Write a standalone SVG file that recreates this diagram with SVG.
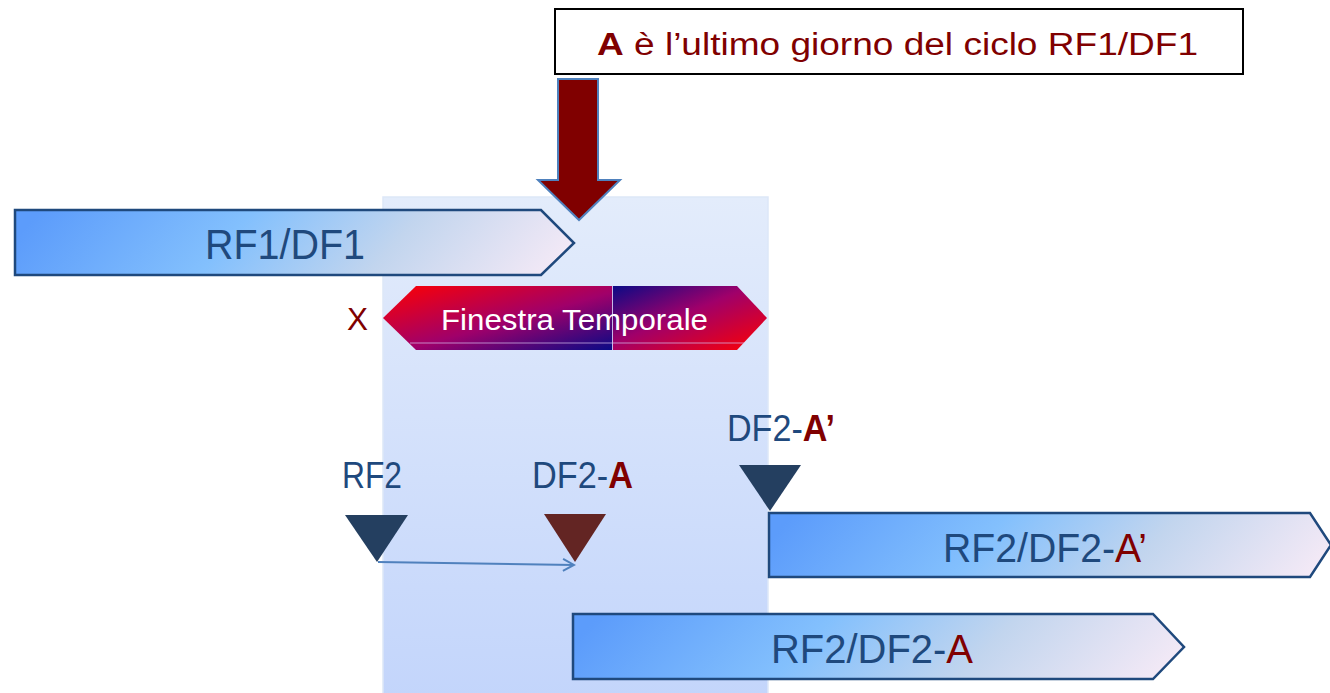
<svg xmlns="http://www.w3.org/2000/svg" width="1330" height="693" viewBox="0 0 1330 693">
<defs>
<style>
.lbl{font-family:"Liberation Sans",Arial,sans-serif;fill:#1f497d}
.red{fill:#800000}
.bold{font-weight:bold}
.pent{fill:url(#pg);stroke:#1f497d;stroke-width:2.5}
</style>
<linearGradient id="bg" x1="0" y1="0" x2="0" y2="1">
<stop offset="0" stop-color="#e3ecfb"/>
<stop offset="1" stop-color="#c3d5fb"/>
</linearGradient>
<linearGradient id="pg" x1="0" y1="0.45" x2="1" y2="0.55">
<stop offset="0" stop-color="#5c9cfb"/>
<stop offset="0.38" stop-color="#83c0fd"/>
<stop offset="0.68" stop-color="#c2d5ee"/>
<stop offset="1" stop-color="#f3e9f6"/>
</linearGradient>
<linearGradient id="fl" x1="0" y1="0" x2="1" y2="1">
<stop offset="0" stop-color="#ff0000"/>
<stop offset="0.55" stop-color="#a0006a"/>
<stop offset="1" stop-color="#0a0a86"/>
</linearGradient>
<linearGradient id="fr" x1="0" y1="0" x2="1" y2="1">
<stop offset="0" stop-color="#0a0a86"/>
<stop offset="0.45" stop-color="#a0006a"/>
<stop offset="1" stop-color="#ff0000"/>
</linearGradient>
<marker id="open" markerWidth="16" markerHeight="16" refX="14" refY="8" orient="auto" markerUnits="userSpaceOnUse">
<path d="M3,2 L14,8 L3,14" fill="none" stroke="#4f81bd" stroke-width="2"/>
</marker>
</defs>
<rect width="1330" height="693" fill="#ffffff"/>

<g id="window-bg">
<rect x="383" y="197" width="385" height="500" fill="url(#bg)" stroke="#dde7f8" stroke-width="1.5"/>
</g>

<g id="rf1df1">
<polygon class="pent" points="15,210 541,210 574,243 541,275 15,275"/>
<text class="lbl" x="205" y="259" font-size="42" textLength="160" lengthAdjust="spacingAndGlyphs">RF1/DF1</text>
</g>

<g id="finestra">
<polygon points="383,318 416,286 612,286 612,350 416,350" fill="url(#fl)"/>
<polygon points="612,286 737,286 767,318 737,350 612,350" fill="url(#fr)"/>
<line x1="612.5" y1="286" x2="612.5" y2="350" stroke="#c8b8e8" stroke-width="1"/>
<line x1="410" y1="343" x2="744" y2="343" stroke="#d8c0f0" stroke-width="1" opacity="0.7"/>
<text x="441" y="330" font-family="Liberation Sans,Arial,sans-serif" font-size="30" fill="#ffffff" textLength="267" lengthAdjust="spacingAndGlyphs">Finestra Temporale</text>
</g>

<g id="x-label">
<text class="lbl red" x="347" y="330" font-size="31" textLength="21" lengthAdjust="spacingAndGlyphs">X</text>
</g>

<g id="rf2">
<text class="lbl" x="342" y="488" font-size="37" textLength="60" lengthAdjust="spacingAndGlyphs">RF2</text>
<polygon points="345,515 408,515 377,562" fill="#243f60"/>
</g>

<g id="df2-a">
<text class="lbl" x="532" y="488" font-size="37" textLength="101" lengthAdjust="spacingAndGlyphs">DF2-<tspan class="red bold">A</tspan></text>
<polygon points="544,514 606,514 575,562" fill="#632523"/>
</g>

<g id="df2-a-prime">
<text class="lbl" x="727" y="441" font-size="37" textLength="108" lengthAdjust="spacingAndGlyphs">DF2-<tspan class="red bold">A’</tspan></text>
<polygon points="739,465 801,465 770,511" fill="#243f60"/>
</g>

<g id="rf2df2-a-prime">
<polygon class="pent" points="769,513 1310,513 1331,545 1310,577 769,577"/>
<text class="lbl" x="943" y="562" font-size="40" textLength="204" lengthAdjust="spacingAndGlyphs">RF2/DF2-<tspan class="red">A’</tspan></text>
</g>

<g id="rf2df2-a">
<polygon class="pent" points="573,614 1153,614 1184,647 1153,679 573,679"/>
<text class="lbl" x="771" y="663" font-size="40" textLength="202" lengthAdjust="spacingAndGlyphs">RF2/DF2-<tspan class="red">A</tspan></text>
</g>

<g id="title">
<rect x="555" y="9" width="688" height="65" fill="#ffffff" stroke="#000000" stroke-width="2"/>
<text x="597" y="55" font-family="Liberation Sans,Arial,sans-serif" font-size="31" fill="#800000" textLength="601" lengthAdjust="spacingAndGlyphs"><tspan font-weight="bold">A</tspan> è l’ultimo giorno del ciclo RF1/DF1</text>
</g>

<g id="connectors">
<line x1="378" y1="562" x2="574" y2="565" stroke="#4f81bd" stroke-width="2" marker-end="url(#open)"/>
<polygon id="down-arrow" points="558,79 598,79 598,180 620,180 579,220 538,180 558,180" fill="#800000" stroke="#4f81bd" stroke-width="2"/>
</g>
</svg>
